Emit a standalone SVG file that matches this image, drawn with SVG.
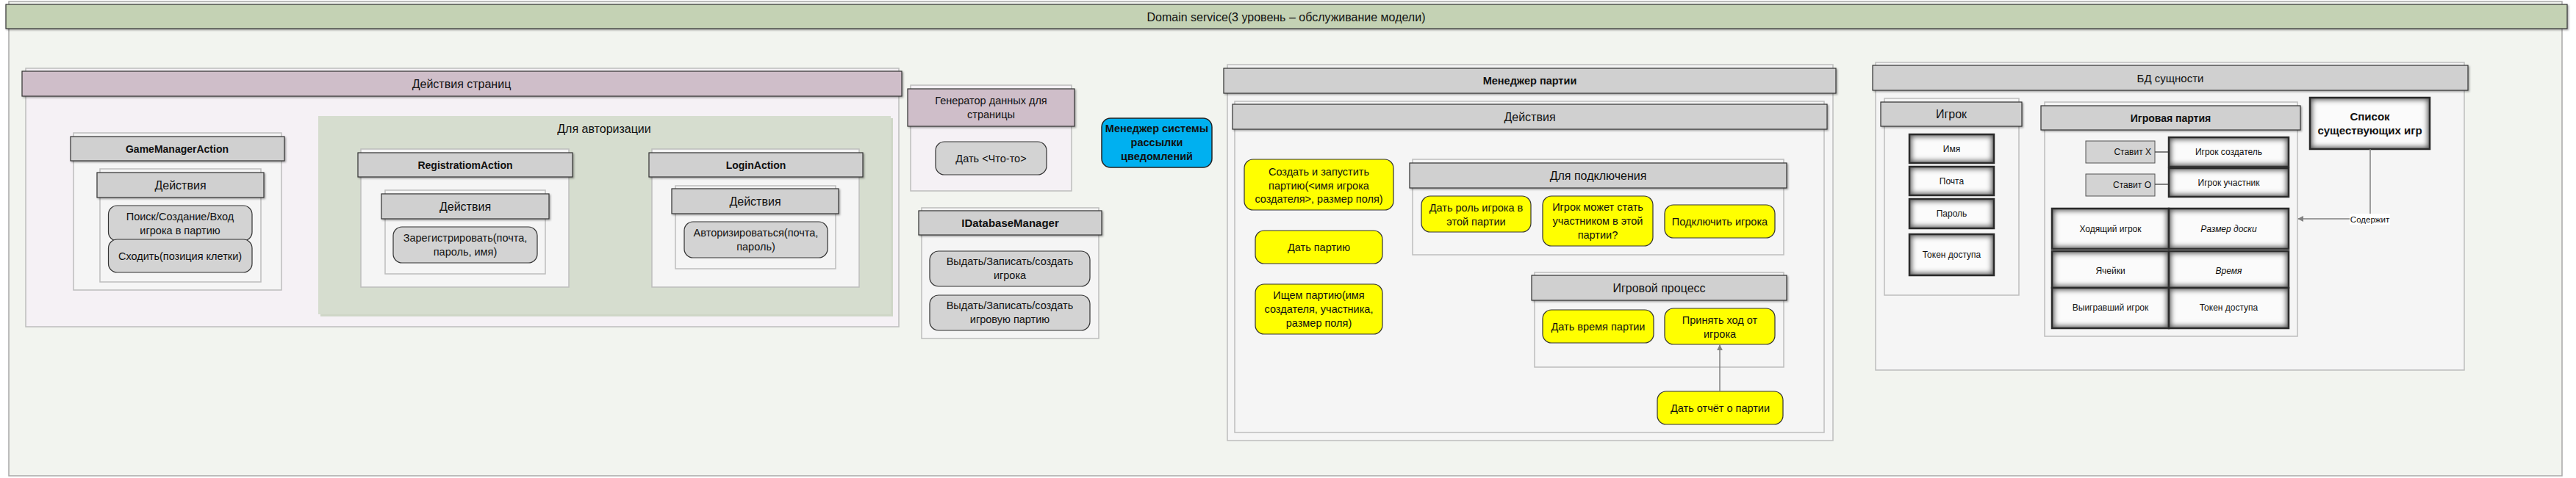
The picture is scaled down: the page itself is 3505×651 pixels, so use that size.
<svg xmlns="http://www.w3.org/2000/svg" width="3505" height="651" viewBox="0 0 3505 651">
<style>
.t{font-family:"Liberation Sans",Arial,sans-serif;font-size:14.5px;fill:#111;text-anchor:middle;dominant-baseline:central}
.h{font-size:16px}
.b{font-weight:bold;font-size:14px}
.s{font-size:12px}
.i{font-style:italic}
.body{fill:#f5f5f5;stroke:#bdbdbd;stroke-width:1.5}
.pbody{fill:#f5f1f5;stroke:#bdbdbd;stroke-width:1.5}
.hdr{fill:#d0d0d0;stroke:#333;stroke-width:1.2;filter:url(#sh)}
.mhdr{fill:#cfbec9;stroke:#333;stroke-width:1.2;filter:url(#sh)}
.item{fill:#d3d3d3;stroke:#333;stroke-width:1.2}
.yel{fill:#ffff00;stroke:#333;stroke-width:1.2}
.gbase{fill:#5a5a5a}
.gin{fill:#fbfbfb;filter:url(#soft)}
.gedge{fill:none;stroke:#2a2a2a;stroke-width:2.5}
.gbox{fill:#d3d3d3;stroke:#555;stroke-width:1}
.conn{fill:none;stroke:#808080;stroke-width:1.5}
</style>
<defs>
<filter id="sh" x="-5%" y="-20%" width="110%" height="150%">
<feDropShadow dx="1.5" dy="1.5" stdDeviation="0.8" flood-color="#000" flood-opacity="0.35"/>
</filter>
<filter id="soft" x="-30%" y="-60%" width="160%" height="220%">
<feGaussianBlur stdDeviation="3.5"/>
</filter>
<marker id="arr" viewBox="0 0 10 10" refX="9" refY="5" markerWidth="8" markerHeight="8" markerUnits="userSpaceOnUse" orient="auto">
<path d="M0,0 L10,5 L0,10 z" fill="#808080"/>
</marker>
</defs>

<g id="domain-service">
<rect x="12" y="2" width="3474" height="646" fill="#f2f4ef" stroke="#a8a8a8" stroke-width="1.5"/>
<rect x="8" y="6" width="3485" height="33" fill="#c4d2b4" stroke="#333" stroke-width="1.2" filter="url(#sh)"/>
<text class="t h" x="1750" y="23">Domain service(3 уровень – обслуживание модели)</text>
</g>

<g id="page-actions">
<rect class="pbody" x="35" y="93" width="1188" height="352"/>
<rect class="mhdr" x="30" y="97" width="1197" height="34"/>
<text class="t h" x="628" y="114">Действия страниц</text>
</g>

<g id="game-manager-action">
<rect class="body" x="100" y="181" width="283" height="214"/>
<rect class="hdr" x="96" y="186" width="291" height="33"/>
<text class="t b" x="241" y="202.5">GameManagerAction</text>
</g>
<g id="gma-actions">
<rect class="body" x="136" y="230" width="219" height="154"/>
<rect class="hdr" x="132" y="235" width="227" height="34"/>
<text class="t h" x="245.5" y="252">Действия</text>
</g>
<g id="gma-search">
<rect class="item" x="147.5" y="280" width="195.5" height="48" rx="12"/>
<text class="t" x="245" y="295">Поиск/Создание/Вход</text>
<text class="t" x="245" y="314">игрока в партию</text>
</g>
<g id="gma-move">
<rect class="item" x="147.5" y="326" width="195.5" height="45" rx="12"/>
<text class="t" x="245" y="348.5">Сходить(позиция клетки)</text>
</g>

<g id="auth">
<rect x="436" y="161" width="779" height="270" fill="#cfd6c7"/>
<rect x="433" y="158" width="779" height="270" fill="#d6ddcf"/>
<text class="t h" x="822" y="175">Для авторизации</text>
</g>

<g id="registration-action">
<rect class="body" x="491" y="203" width="283" height="188"/>
<rect class="hdr" x="487" y="208" width="292" height="33"/>
<text class="t b" x="633" y="224.5">RegistratiomAction</text>
</g>
<g id="reg-actions">
<rect class="body" x="524" y="259" width="218" height="114"/>
<rect class="hdr" x="519" y="264" width="228" height="34"/>
<text class="t h" x="633" y="281">Действия</text>
</g>
<g id="reg-register">
<rect class="item" x="535" y="309" width="196" height="49" rx="12"/>
<text class="t" x="633" y="324">Зарегистрировать(почта,</text>
<text class="t" x="633" y="343">пароль, имя)</text>
</g>

<g id="login-action">
<rect class="body" x="887" y="203" width="282" height="188"/>
<rect class="hdr" x="883" y="208" width="291" height="33"/>
<text class="t b" x="1028.5" y="224.5">LoginAction</text>
</g>
<g id="login-actions">
<rect class="body" x="919" y="253" width="218" height="113"/>
<rect class="hdr" x="914" y="257" width="227" height="34"/>
<text class="t h" x="1027.5" y="274">Действия</text>
</g>
<g id="login-auth">
<rect class="item" x="931" y="302" width="195" height="49" rx="12"/>
<text class="t" x="1028.5" y="317">Авторизироваться(почта,</text>
<text class="t" x="1028.5" y="336">пароль)</text>
</g>

<g id="page-data-generator">
<rect class="pbody" x="1239" y="116" width="219" height="144"/>
<rect class="mhdr" x="1235" y="121" width="227" height="51"/>
<text class="t" x="1348.5" y="137">Генератор данных для</text>
<text class="t" x="1348.5" y="156">страницы</text>
</g>
<g id="gen-give">
<rect class="item" x="1273" y="193" width="151" height="45" rx="12"/>
<text class="t" x="1348.5" y="215.5">Дать &lt;Что-то&gt;</text>
</g>

<g id="idatabase-manager">
<rect class="body" x="1254" y="283" width="241" height="178"/>
<rect class="hdr" x="1250" y="287" width="249" height="33"/>
<text class="t b" x="1374.5" y="303.5" style="font-size:15px">IDatabaseManager</text>
</g>
<g id="db-player">
<rect class="item" x="1265" y="342" width="218" height="48" rx="12"/>
<text class="t" x="1374" y="356">Выдать/Записать/создать</text>
<text class="t" x="1374" y="375">игрока</text>
</g>
<g id="db-game">
<rect class="item" x="1265" y="402" width="218" height="48" rx="12"/>
<text class="t" x="1374" y="416">Выдать/Записать/создать</text>
<text class="t" x="1374" y="435">игровую партию</text>
</g>

<g id="notification-manager">
<rect x="1499" y="161" width="150" height="67" rx="12" fill="#00b0f0" stroke="#222" stroke-width="1.5"/>
<text class="t b" x="1574" y="175" style="font-size:14.5px">Менеджер системы</text>
<text class="t b" x="1574" y="194" style="font-size:14.5px">рассылки</text>
<text class="t b" x="1574" y="213" style="font-size:14.5px">цведомлений</text>
</g>

<g id="game-manager">
<rect class="body" x="1670" y="88" width="824" height="512"/>
<rect class="hdr" x="1665" y="93" width="833" height="34"/>
<text class="t b" x="2081.5" y="110" style="font-size:14.5px">Менеджер партии</text>
</g>
<g id="gm-actions">
<rect class="body" x="1680" y="138" width="802" height="451"/>
<rect class="hdr" x="1677" y="142" width="809" height="34"/>
<text class="t h" x="2081.5" y="159">Действия</text>
</g>
<g id="gm-create">
<rect class="yel" x="1693" y="217" width="203" height="69" rx="12"/>
<text class="t" x="1794.5" y="234">Создать и запустить</text>
<text class="t" x="1794.5" y="252.5">партию(&lt;имя игрока</text>
<text class="t" x="1794.5" y="271">создателя&gt;, размер поля)</text>
</g>
<g id="gm-give">
<rect class="yel" x="1708" y="314" width="173" height="45" rx="12"/>
<text class="t" x="1794.5" y="336.5">Дать партию</text>
</g>
<g id="gm-search">
<rect class="yel" x="1708" y="387" width="173" height="68" rx="12"/>
<text class="t" x="1794.5" y="402">Ищем партию(имя</text>
<text class="t" x="1794.5" y="421">создателя, участника,</text>
<text class="t" x="1794.5" y="440">размер поля)</text>
</g>
<g id="gm-connect">
<rect class="body" x="1922" y="217" width="505" height="130"/>
<rect class="hdr" x="1918" y="222" width="513" height="34"/>
<text class="t h" x="2174.5" y="239">Для подключения</text>
</g>
<g id="gm-role">
<rect class="yel" x="1934" y="267" width="149" height="49" rx="12"/>
<text class="t" x="2008.5" y="282.5">Дать роль игрока в</text>
<text class="t" x="2008.5" y="301.5">этой партии</text>
</g>
<g id="gm-can-join">
<rect class="yel" x="2099" y="267" width="150" height="68" rx="12"/>
<text class="t" x="2174" y="282">Игрок может стать</text>
<text class="t" x="2174" y="301">участником в этой</text>
<text class="t" x="2174" y="320">партии?</text>
</g>
<g id="gm-join">
<rect class="yel" x="2265" y="279" width="150" height="45" rx="12"/>
<text class="t" x="2340" y="301.5">Подключить игрока</text>
</g>
<g id="gm-process">
<rect class="body" x="2088" y="371" width="339" height="129"/>
<rect class="hdr" x="2084" y="375" width="347" height="34"/>
<text class="t h" x="2257.5" y="392">Игровой процесс</text>
</g>
<g id="gm-time">
<rect class="yel" x="2099" y="422" width="151" height="45" rx="12"/>
<text class="t" x="2174.5" y="444.5">Дать время партии</text>
</g>
<g id="gm-accept">
<rect class="yel" x="2265" y="420" width="150" height="49" rx="12"/>
<text class="t" x="2340" y="435.5">Принять ход от</text>
<text class="t" x="2340" y="454.5">игрока</text>
</g>
<g id="gm-report">
<rect class="yel" x="2255" y="533" width="171" height="45" rx="12"/>
<text class="t" x="2340.5" y="555.5">Дать отчёт о партии</text>
</g>

<g id="db-entities">
<rect class="body" x="2552" y="85" width="801" height="419"/>
<rect class="hdr" x="2548" y="89" width="810" height="34"/>
<text class="t" x="2953" y="106" style="font-size:15px">БД сущности</text>
</g>
<g id="ent-player">
<rect class="body" x="2564" y="134" width="183" height="268"/>
<rect class="hdr" x="2559" y="139" width="192" height="33"/>
<text class="t h" x="2655" y="155.5">Игрок</text>
</g>
<g id="ent-player-name"><rect class="gbase" x="2598" y="183" width="115" height="39"/><rect class="gin" x="2601" y="186" width="109" height="33"/><rect class="gedge" x="2598" y="183" width="115" height="39"/><text class="t s" x="2655.5" y="202.5">Имя</text></g>
<g id="ent-player-mail"><rect class="gbase" x="2598" y="227" width="115" height="39"/><rect class="gin" x="2601" y="230" width="109" height="33"/><rect class="gedge" x="2598" y="227" width="115" height="39"/><text class="t s" x="2655.5" y="246.5">Почта</text></g>
<g id="ent-player-pass"><rect class="gbase" x="2598" y="271" width="115" height="40"/><rect class="gin" x="2601" y="274" width="109" height="34"/><rect class="gedge" x="2598" y="271" width="115" height="40"/><text class="t s" x="2655.5" y="291">Пароль</text></g>
<g id="ent-player-token"><rect class="gbase" x="2598" y="319" width="115" height="56"/><rect class="gin" x="2601" y="322" width="109" height="50"/><rect class="gedge" x="2598" y="319" width="115" height="56"/><text class="t s" x="2655.5" y="347">Токен доступа</text></g>

<g id="ent-game">
<rect class="body" x="2782" y="139" width="344" height="319"/>
<rect class="hdr" x="2777" y="144" width="353" height="33"/>
<text class="t b" x="2953.5" y="160.5">Игровая партия</text>
</g>
<g id="ent-puts-x"><rect class="gbox" x="2838" y="192" width="94" height="30"/><text class="t s" x="2927" y="207" style="text-anchor:end">Ставит X</text></g>
<g id="ent-puts-o"><rect class="gbox" x="2838" y="237" width="94" height="30"/><text class="t s" x="2927" y="252" style="text-anchor:end">Ставит O</text></g>
<g id="ent-creator"><rect class="gbase" x="2951" y="187" width="163" height="40"/><rect class="gin" x="2954" y="190" width="157" height="34"/><rect class="gedge" x="2951" y="187" width="163" height="40"/><text class="t s" x="3032.5" y="207">Игрок создатель</text></g>
<g id="ent-participant"><rect class="gbase" x="2951" y="229" width="163" height="39"/><rect class="gin" x="2954" y="232" width="157" height="33"/><rect class="gedge" x="2951" y="229" width="163" height="39"/><text class="t s" x="3032.5" y="248.5">Игрок участник</text></g>
<g id="ent-moving"><rect class="gbase" x="2792" y="284" width="159" height="55"/><rect class="gin" x="2795" y="287" width="153" height="49"/><rect class="gedge" x="2792" y="284" width="159" height="55"/><text class="t s" x="2871.5" y="311.5">Ходящий игрок</text></g>
<g id="ent-size"><rect class="gbase" x="2951" y="284" width="163" height="55"/><rect class="gin" x="2954" y="287" width="157" height="49"/><rect class="gedge" x="2951" y="284" width="163" height="55"/><text class="t s i" x="3032.5" y="311.5">Размер доски</text></g>
<g id="ent-cells"><rect class="gbase" x="2792" y="342" width="159" height="50"/><rect class="gin" x="2795" y="345" width="153" height="44"/><rect class="gedge" x="2792" y="342" width="159" height="50"/><text class="t s" x="2871.5" y="369">Ячейки</text></g>
<g id="ent-time"><rect class="gbase" x="2951" y="342" width="163" height="50"/><rect class="gin" x="2954" y="345" width="157" height="44"/><rect class="gedge" x="2951" y="342" width="163" height="50"/><text class="t s i" x="3032.5" y="369">Время</text></g>
<g id="ent-winner"><rect class="gbase" x="2792" y="392" width="159" height="55"/><rect class="gin" x="2795" y="395" width="153" height="49"/><rect class="gedge" x="2792" y="392" width="159" height="55"/><text class="t s" x="2871.5" y="418.5">Выигравший игрок</text></g>
<g id="ent-token"><rect class="gbase" x="2951" y="392" width="163" height="55"/><rect class="gin" x="2954" y="395" width="157" height="49"/><rect class="gedge" x="2951" y="392" width="163" height="55"/><text class="t s" x="3032.5" y="418.5">Токен доступа</text></g>

<g id="games-list">
<rect class="gbase" x="3143" y="133" width="163" height="70"/>
<rect class="gin" x="3146" y="136" width="157" height="64"/>
<rect class="gedge" x="3143" y="133" width="163" height="70"/>
<text class="t b" x="3224.5" y="158.5" style="font-size:15px">Список</text>
<text class="t b" x="3224.5" y="177" style="font-size:15px">существующих игр</text>
</g>

<g id="connectors">
<line x1="2932" y1="207" x2="2951" y2="207" stroke="#333" stroke-width="1.2"/>
<line x1="2932" y1="251" x2="2951" y2="251" stroke="#333" stroke-width="1.2"/>
<path class="conn" d="M2340,533 V470" marker-end="url(#arr)"/>
<path class="conn" d="M3225,203 V298 H3127" marker-end="url(#arr)"/>
<rect x="3197" y="291" width="55" height="15" fill="#fff"/>
<text class="t" x="3224.5" y="298.5" style="font-size:11.5px">Содержит</text>
</g>
</svg>
